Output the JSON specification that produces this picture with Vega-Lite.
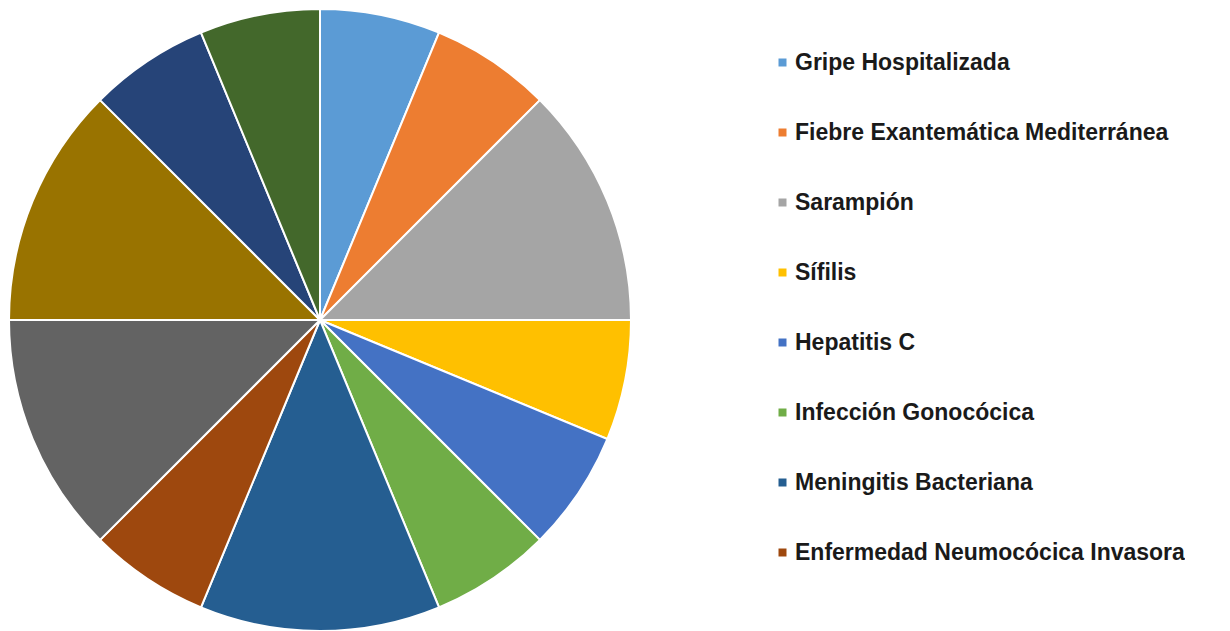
{
  "$schema": "https://vega.github.io/schema/vega-lite/v6.json",
  "width": 640,
  "height": 640,
  "padding": 0,
  "background": "white",
  "data": {
    "values": [
      {"enfermedad": "Gripe Hospitalizada", "valor": 1, "idx": 1},
      {"enfermedad": "Fiebre Exantemática Mediterránea", "valor": 1, "idx": 2},
      {"enfermedad": "Sarampión", "valor": 2, "idx": 3},
      {"enfermedad": "Sífilis", "valor": 1, "idx": 4},
      {"enfermedad": "Hepatitis C", "valor": 1, "idx": 5},
      {"enfermedad": "Infección Gonocócica", "valor": 1, "idx": 6},
      {"enfermedad": "Meningitis Bacteriana", "valor": 2, "idx": 7},
      {"enfermedad": "Enfermedad Neumocócica Invasora", "valor": 1, "idx": 8},
      {"enfermedad": "Hepatitis B", "valor": 2, "idx": 9},
      {"enfermedad": "Tuberculosis", "valor": 2, "idx": 10},
      {"enfermedad": "Legionelosis", "valor": 1, "idx": 11},
      {"enfermedad": "Parotiditis", "valor": 1, "idx": 12}
    ]
  },
  "mark": {"type": "arc", "outerRadius": 311, "stroke": "white", "strokeWidth": 2},
  "encoding": {
    "theta": {"field": "valor", "type": "quantitative", "stack": true},
    "order": {"field": "idx", "type": "quantitative"},
    "color": {
      "field": "enfermedad",
      "type": "nominal",
      "scale": {
        "domain": ["Gripe Hospitalizada", "Fiebre Exantemática Mediterránea", "Sarampión", "Sífilis", "Hepatitis C", "Infección Gonocócica", "Meningitis Bacteriana", "Enfermedad Neumocócica Invasora", "Hepatitis B", "Tuberculosis", "Legionelosis", "Parotiditis"],
        "range": ["#5B9BD5", "#ED7D31", "#A5A5A5", "#FFC000", "#4472C4", "#70AD47", "#255E91", "#9E480E", "#636363", "#997300", "#264478", "#43682B"]
      },
      "legend": {
        "title": null,
        "orient": "none",
        "legendX": 771,
        "legendY": 51,
        "values": ["Gripe Hospitalizada", "Fiebre Exantemática Mediterránea", "Sarampión", "Sífilis", "Hepatitis C", "Infección Gonocócica", "Meningitis Bacteriana", "Enfermedad Neumocócica Invasora"],
        "symbolType": "square",
        "symbolSize": 64,
        "symbolStrokeWidth": 0,
        "labelFont": "Liberation Sans",
        "labelFontSize": 23,
        "labelFontWeight": "bold",
        "labelColor": "#1a1a1a",
        "labelOffset": 1,
        "labelLimit": 600,
        "rowPadding": 46
      }
    }
  },
  "config": {"view": {"stroke": null}}
}
